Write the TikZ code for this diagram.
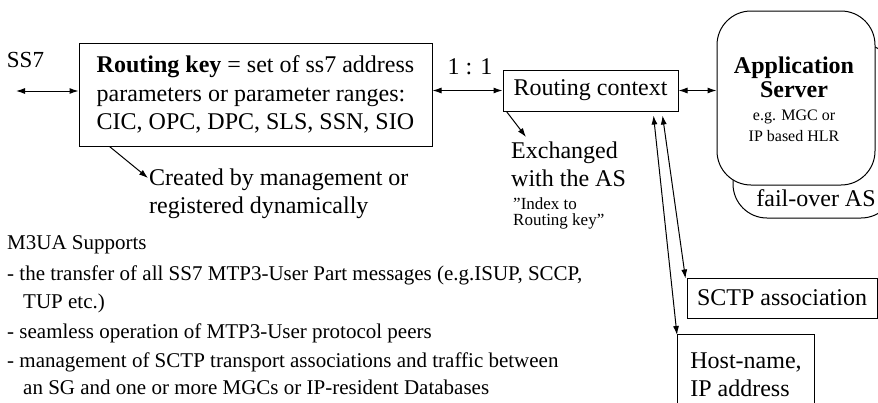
\documentclass[tikz,border=0pt]{standalone}
\usepackage{fontspec}
\setmainfont{Liberation Serif}
\usetikzlibrary{arrows.meta,calc}
\begin{document}
\begin{tikzpicture}[x=1pt,y=-1pt,
  box/.style={draw,line width=1pt,inner sep=0pt},
  txt/.style={inner sep=0pt},
  conn/.style={line width=1pt,{Latex[length=9pt,width=6pt]}-{Latex[length=9pt,width=6pt]}},
  oneway/.style={line width=1pt,-{Latex[length=9pt,width=6pt]}},
  big/.style={font=\fontsize{24}{28.5}\selectfont},
  small/.style={txt,anchor=west,font=\fontsize{21}{24}\selectfont},
  tiny/.style={font=\fontsize{17}{16}\selectfont},
  asbox/.style={draw,line width=1pt,rounded corners=34pt,fill=white}
]
\useasboundingbox (0,0) rectangle (878,402);
\clip (0,0) rectangle (878,402);

% SS7
\node[txt,font=\fontsize{23}{23}\selectfont] (ss7) at (25.5,60) {SS7};
\coordinate (ss7end) at (16,91);

% Routing key box
\node[box,big,align=left,minimum width=353pt,minimum height=103pt] (rk) at (255.5,94.5)
  {\textbf{Routing key} = set of ss7 address\\parameters or parameter ranges:\\CIC, OPC, DPC, SLS, SSN, SIO};

% 1:1
\node[txt,big] (ratio) at (470,67) {1 : 1};

% Routing context
\node[box,big,minimum width=175pt,minimum height=41pt] (rc) at (590.5,90.5) {Routing context};

% Application server (back + front)
\draw[asbox] (733,44) rectangle (895,218);
\node[txt,big] (fail) at (816,198) {fail-over AS};
\node[asbox,minimum width=158pt,minimum height=174pt] (as) at (796,98) {};
\node[txt,align=center,font=\bfseries\fontsize{24}{24}\selectfont] (astitle) at (794,77) {Application\\Server};
\node[txt,align=center,font=\fontsize{16}{21}\selectfont] (assub) at (794,126) {e.g. MGC or\\IP based HLR};

% Created by
\node[txt,align=left,anchor=north west,font=\fontsize{24}{28}\selectfont] (created) at (149,169)
  {Created by management or\\registered dynamically};

% Exchanged
\node[txt,align=left,anchor=north west,font=\fontsize{24}{28}\selectfont] (exch) at (511,142)
  {Exchanged\\with the AS};
\node[txt,tiny,align=left,anchor=north west] (idx) at (513,197)
  {”Index to\\Routing key”};

% SCTP association
\node[box,big,minimum width=190pt,minimum height=40pt] (sctp) at (782,298) {SCTP association};

% Host-name
\node[box,align=left,anchor=north west,minimum width=137pt,minimum height=80pt,font=\fontsize{24}{28}\selectfont] (host) at (677,334)
  {Host-name,\\IP address};

% M3UA text
\node[small] (m1) at (7,245) {M3UA Supports};
\node[small] (m2) at (7,275) {- the transfer of all SS7 MTP3-User Part messages (e.g.ISUP, SCCP,};
\node[small] (m3) at (23,303) {TUP etc.)};
\node[small] (m4) at (7,333) {- seamless operation of MTP3-User protocol peers};
\node[small] (m5) at (7,362) {- management of SCTP transport associations and traffic between};
\node[small] (m6) at (23,387) {an SG and one or more MGCs or IP-resident Databases};

% connectors
\draw[conn] (ss7end) -- (rk.west |- ss7end);
\draw[conn] (rk.east |- rc.west) -- (rc.west);
\draw[conn] (rc.east) -- (as.west |- rc.east);
\draw[oneway] ($(rk.south west)+(31,0)$) -- ($(created.north west)+(-1,9)$);
\draw[oneway] ($(rc.south west)+(4,0)$) -- ($(exch.north west)+(15,-5)$);
\draw[conn] ($(rc.south west)+(151,4)$) -- ($(host.north west)+(0,1)$);
\draw[conn] ($(rc.south west)+(160,4)$) -- ($(sctp.north west)+(-1,1)$);
\end{tikzpicture}
\end{document}
